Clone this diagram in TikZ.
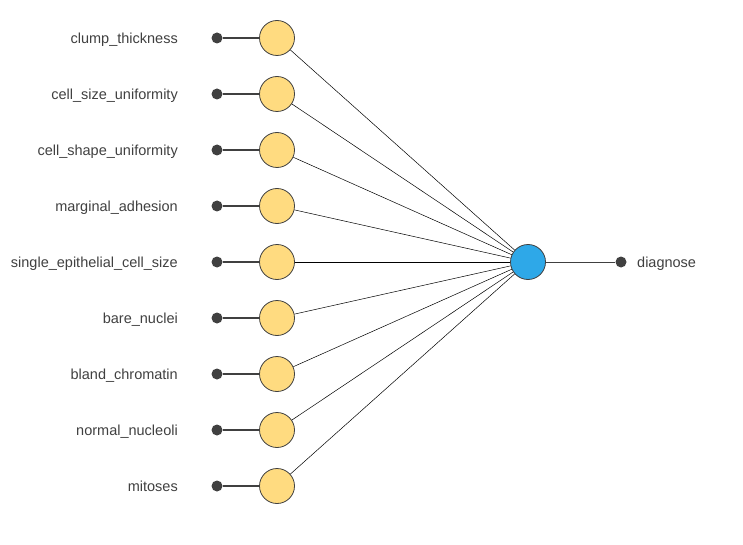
\documentclass[tikz,border=0pt]{standalone}
\usepackage{fontspec}
\setmainfont{Liberation Sans}
\definecolor{neuronyellow}{HTML}{FFDB80}
\definecolor{neuronblue}{HTML}{2EA8E8}
\definecolor{darkdot}{HTML}{404040}
\begin{document}
\begin{tikzpicture}[x=1pt, y=-1pt,
    inputdot/.style={circle, fill=darkdot, inner sep=0pt, minimum size=11pt},
    hiddenneuron/.style={circle, draw=darkdot, fill=neuronyellow, inner sep=0pt, minimum size=35pt, line width=0.8pt},
    outneuron/.style={circle, draw=darkdot, fill=neuronblue, inner sep=0pt, minimum size=35pt, line width=0.8pt},
    varlabel/.style={text=darkdot, font=\fontsize{14.5}{17}\selectfont, inner sep=0pt}]
    \useasboundingbox (0,0) rectangle (743,545);
    \node[outneuron] (out) at (528,262) {};
    \node[inputdot] (outdot) at (621,262) {};
    \node[varlabel, anchor=base west] (outlab) at (637,267.5) {diagnose};
    \foreach \name [count=\i] in {clump\_thickness, cell\_size\_uniformity, cell\_shape\_uniformity,
        marginal\_adhesion, single\_epithelial\_cell\_size, bare\_nuclei,
        bland\_chromatin, normal\_nucleoli, mitoses} {
        \node[varlabel, anchor=base east] (lab\i) at (178,{43.5+56*(\i-1)}) {\name};
        \node[inputdot] (in\i) at (217,{38+56*(\i-1)}) {};
        \node[hiddenneuron] (h\i) at (277,{38+56*(\i-1)}) {};
        \draw[darkdot, line width=1.3pt] (in\i) -- (h\i);
        \draw[black, line width=0.5pt] (h\i) -- (out);
    }
    \draw[darkdot, line width=1pt] (out) -- (outdot);
\end{tikzpicture}
\end{document}
